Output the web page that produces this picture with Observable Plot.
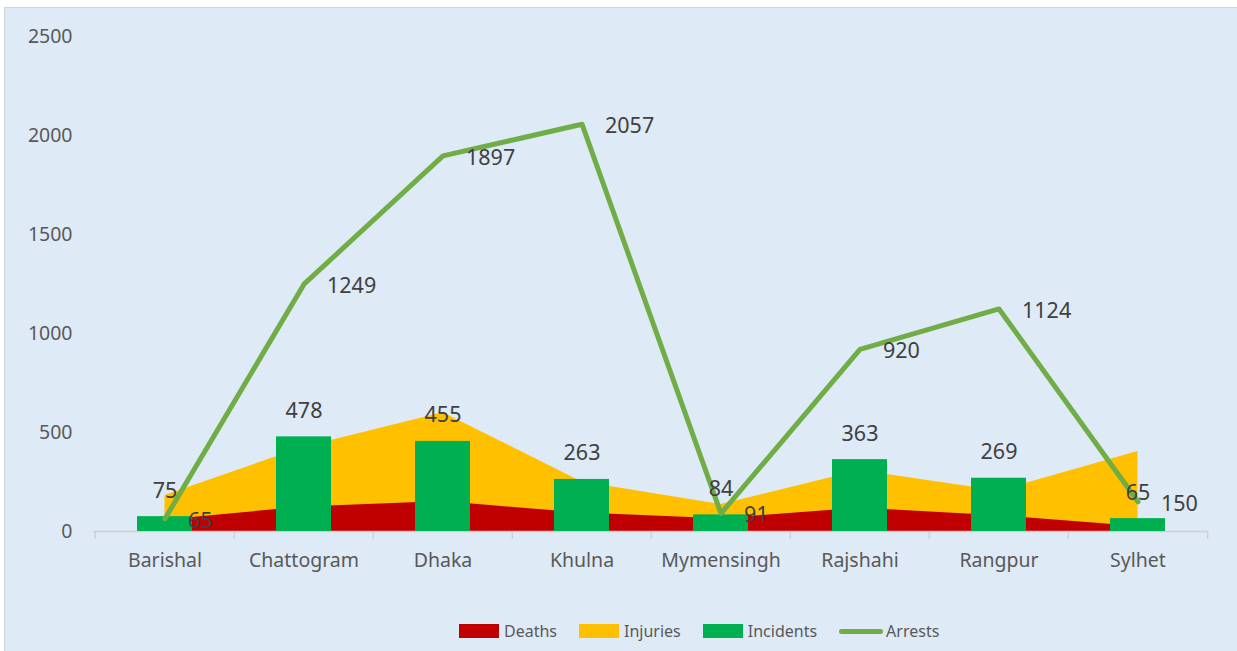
<!DOCTYPE html>
<html>
<head>
<meta charset="utf-8">
<script src="https://cdn.jsdelivr.net/npm/d3@7"></script>
<script src="https://cdn.jsdelivr.net/npm/@observablehq/plot@0.6"></script>
<style>
  html, body { margin: 0; padding: 0; background: #ffffff; width: 1237px; height: 651px; overflow: hidden; }
  #bg { position: absolute; left: 4px; top: 7px; width: 1240px; height: 660px; background: #DEEAF6; border-left: 1px solid #d4d4d4; border-top: 1px solid #d4d4d4; }
  #chart { position: absolute; left: 0; top: 0; }
  #legend { position: absolute; left: 459px; top: 620px; display: flex; align-items: center; font-family: "Noto Sans", sans-serif; font-size: 16px; color: #595959; }
  .item { display: flex; align-items: center; margin-right: 22px; }
  .sw { width: 40px; height: 14px; margin-right: 5px; }
  .ln { width: 44px; height: 5px; border-radius: 3px; margin-right: 3px; }
</style>
</head>
<body>
<div id="bg"></div>
<div id="chart"></div>
<div id="legend"></div>
<script>
const categories = ["Barishal", "Chattogram", "Dhaka", "Khulna", "Mymensingh", "Rajshahi", "Rangpur", "Sylhet"];
const deaths    = [58, 124, 151, 93, 65, 118, 80, 25];
const injuries  = [182, 426, 600, 250, 136, 308, 205, 404];
const incidents = [75, 478, 455, 263, 84, 363, 269, 65];
const arrests   = [65, 1249, 1897, 2057, 91, 920, 1124, 150];
const yTicks = [0, 500, 1000, 1500, 2000, 2500];

const seriesNames = ["Deaths", "Injuries", "Incidents", "Arrests"];
const seriesColors = ["#C00000", "#FFC000", "#00B050", "#70AD47"];

const rows = categories.map((c, i) => ({
  cat: c, deaths: deaths[i], injuries: injuries[i], incidents: incidents[i], arrests: arrests[i]
}));

const W = 1237, H = 600, ML = 93, MR = 29, MT = 36, MB = 69;
const bw = (W - ML - MR) / categories.length;

const chart = Plot.plot({
  width: W, height: H,
  marginLeft: ML, marginRight: MR, marginTop: MT, marginBottom: MB,
  style: { background: "transparent", fontFamily: "'Noto Sans', sans-serif", fontSize: "19.5px", color: "#595959", overflow: "visible" },
  x: { type: "band", domain: categories, padding: 0, label: null, tickSize: 0, tickPadding: 22 },
  y: { domain: [0, 2500], ticks: yTicks, tickFormat: d => String(d), label: null, tickSize: 0, tickPadding: 21 },
  marks: [
    Plot.areaY(rows, { x: "cat", y: "injuries", fill: seriesColors[1] }),
    Plot.areaY(rows, { x: "cat", y: "deaths", fill: seriesColors[0] }),
    Plot.ruleY([0], { stroke: "#d0d0d0", strokeWidth: 1.5 }),
    Plot.ruleX(rows, { x: "cat", y1: 0, y2: 0, insetBottom: -8, dx: -bw / 2, stroke: "#d0d0d0", strokeWidth: 1.5 }),
    Plot.ruleX(rows.slice(-1), { x: "cat", y1: 0, y2: 0, insetBottom: -8, dx: bw / 2, stroke: "#d0d0d0", strokeWidth: 1.5 }),
    Plot.barY(rows, { x: "cat", y: "incidents", fill: seriesColors[2], insetLeft: 42, insetRight: 42 }),
    Plot.lineY(rows, { x: "cat", y: "arrests", stroke: seriesColors[3], strokeWidth: 5, strokeLinecap: "round", strokeLinejoin: "round" }),
    Plot.text(rows, { x: "cat", y: "incidents", text: d => String(d.incidents), dy: -26, fill: "#404040", fontSize: 21.5 }),
    Plot.text(rows, { x: "cat", y: "arrests", text: d => String(d.arrests), dx: 23, dy: 2, textAnchor: "start", fill: "#404040", fontSize: 21.5 })
  ]
});
document.getElementById("chart").appendChild(chart);

const legend = document.getElementById("legend");
seriesNames.forEach((name, i) => {
  const item = document.createElement("div");
  item.className = "item";
  const sw = document.createElement("div");
  sw.className = i === 3 ? "ln" : "sw";
  sw.style.background = seriesColors[i];
  const label = document.createElement("span");
  label.textContent = name;
  item.appendChild(sw);
  item.appendChild(label);
  legend.appendChild(item);
});
</script>
</body>
</html>
